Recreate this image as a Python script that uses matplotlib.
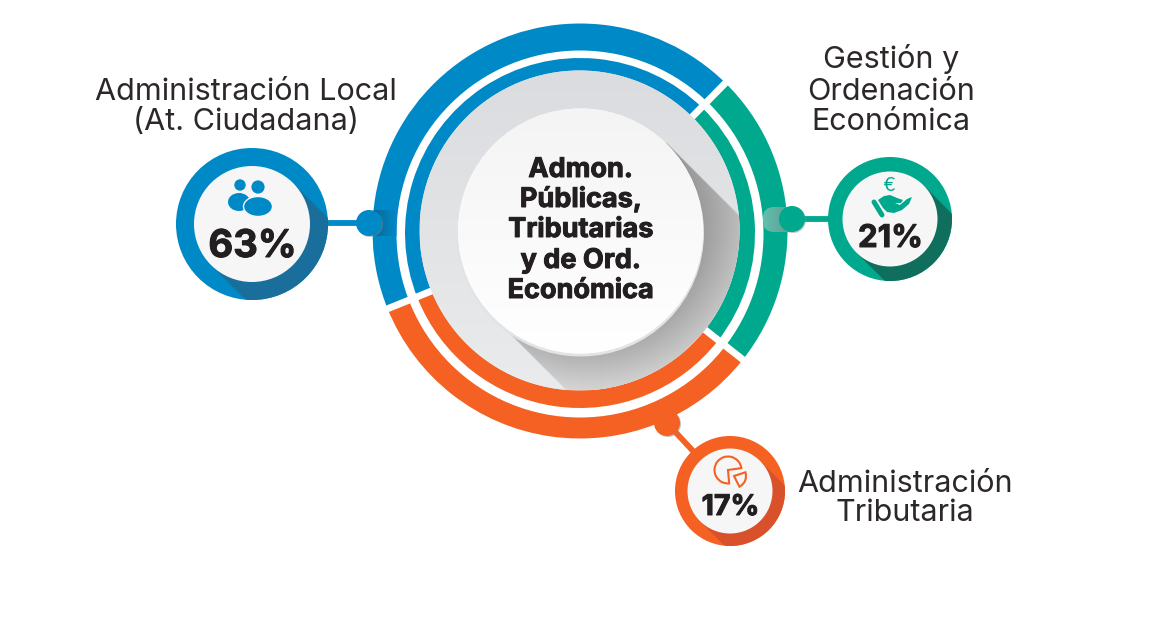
import numpy as np
from matplotlib import pyplot as plt
from matplotlib import patheffects as pe
from matplotlib.colors import to_rgb
from matplotlib.patches import Circle, Ellipse, FancyBboxPatch, Polygon, Wedge

AREAS = ['Administración Local\n(At. Ciudadana)', 'Gestión y\nOrdenación\nEconómica', 'Administración\nTributaria']
SHARES = ['63%', '21%', '17%']
CENTER_LABEL = ['Admon.', 'Públicas,', 'Tributarias', 'y de Ord.', 'Económica']
# arc ends in degrees, measured clockwise from 3 o'clock
ARC_START = [158, -45.5, 38.3]
ARC_END = [314.5, 38.3, 158]

BLUE = '#0089c7'
GREEN = '#00a88e'
ORANGE = '#f46122'
COLORS = [BLUE, GREEN, ORANGE]
DARKS = ['#1a6e9b', '#0f6f5c', '#d9512a']
TEXT = '#2c2827'
INK = '#231f20'

CX, CY = 580, 231

plt.rcParams['font.family'] = ['Inter', 'DejaVu Sans']

fig = plt.figure(figsize=(11.72, 6.24), dpi=100)
ax = fig.add_axes([0, 0, 1, 1])
ax.axis('off')

HEAVY = [pe.withStroke(linewidth=0.7, foreground=INK)]


def gradient(extent, c0, c1, clip, horizontal=True, zorder=2):
    # small image going from c0 to c1, cut by a patch
    t = np.linspace(0, 1, 128)
    col = np.outer(1 - t, to_rgb(c0)) + np.outer(t, to_rgb(c1))
    rgb = col[None, :, :] if horizontal else col[:, None, :]
    im = ax.imshow(rgb, extent=extent, aspect='auto', zorder=zorder, interpolation='bilinear')
    if clip is not None:
        im.set_clip_path(clip)
    return im


def long_shadow(cx, cy, r, length, clip, color, zorder=3):
    # band leaving a disc towards the lower right
    k = r * np.sqrt(0.5)
    d = length * np.sqrt(0.5)
    pts = [(cx + k, cy - k), (cx + k + d, cy - k + d), (cx - k + d, cy + k + d), (cx - k, cy + k)]
    band = Polygon(pts, closed=True, fc=color, ec='none', zorder=zorder)
    ax.add_patch(band)
    band.set_clip_path(clip)
    return band


# segmented rings, the two bands are not quite concentric
for start, end, color in zip(ARC_START, ARC_END, COLORS):
    ax.add_patch(Wedge((CX, CY), 207.5, start, end, fc=color, ec='none', zorder=0.5))
    ax.add_patch(Wedge((CX, CY + 2), 175, start, end, fc=color, ec='none', zorder=0.7))
ax.add_patch(Circle((CX, CY + 3), 183.5, fc='white', ec='none', zorder=0.6))
for end in ARC_START:
    a = np.deg2rad(end)
    ax.plot([CX + 150 * np.cos(a), CX + 213 * np.cos(a)], [CY + 150 * np.sin(a), CY + 213 * np.sin(a)],
            color='white', lw=5, solid_capstyle='butt', zorder=0.8)

# big grey disc and its shadow
DX, DY, DR = CX - 0.5, CY - 0.5, 160
disc = Circle((DX, DY), DR, fc='#e5e6e8', ec='none', zorder=1)
ax.add_patch(disc)
gradient((DX - DR, DX + DR, DY + DR, DY - DR), '#dbdcdf', '#eaebec', disc, horizontal=False)

size = 644
grid_x, grid_y = np.meshgrid(np.linspace(-DR, DR, size), np.linspace(-DR, DR, size))
radial = np.clip((np.hypot(grid_x, grid_y) - 123) / 38, 0, 1)
across = (grid_x - grid_y) * np.sqrt(0.5)   # towards the upper right
along = (grid_x + grid_y) * np.sqrt(0.5)
shade = np.zeros((size, size, 4))
shade[..., :3] = (0.65 + 0.14 * radial - 0.05 * across / 123)[..., None]
shade[..., 3] = np.clip(123.5 - np.abs(across), 0, 1) * (along > 0)
im = ax.imshow(shade, extent=(DX - DR, DX + DR, DY + DR, DY - DR), aspect='auto', zorder=3.5)
im.set_clip_path(disc)

ax.add_patch(Circle((CX + 0.5, CY + 2), 123.5, fc='#e2e3e5', ec='none', zorder=4))
top = Circle((CX + 0.5, CY), 122.5, fc='white', ec='none', zorder=4.5)
ax.add_patch(top)
gradient((CX - 123, CX + 124, CY + 123, CY - 123), '#f4f4f5', '#ffffff', top, horizontal=False, zorder=4.6)

# satellite circles: centre, outer radius, inner radius, knob, stem end, baseline and size of the share
SAT = [
    (252, 224, 76, 58, (369, 223), (328, 223), 257, 27.5, (246, [100, 130])),
    (890, 219, 62, 47.5, (792, 219), (830, 219), 247, 22.5, (891, [68, 100, 130])),
    (730, 491, 55, 42.5, (667, 423), (693, 451), 515, 20.5, (905, [492, 521])),
]

for i, (x, y, r_out, r_in, knob, stem, py, psize, lab) in enumerate(SAT):
    color = COLORS[i]
    ax.plot([knob[0], stem[0]], [knob[1], stem[1]], color=color, lw=4.2, solid_capstyle='butt', zorder=6)
    outer = Circle((x, y), r_out, fc=color, ec='none', zorder=7)
    ax.add_patch(outer)
    long_shadow(x, y, r_in, r_out * 1.4, outer, DARKS[i], zorder=7.5)
    ax.add_patch(Circle((x, y), r_in, fc='#f6f6f7', ec='none', zorder=8))
    ax.text(x + 0.5, py, SHARES[i], ha='center', va='baseline', fontsize=psize, fontweight='bold',
            color=INK, zorder=10, path_effects=HEAVY)
    ax.add_patch(Circle((knob[0] + 1, knob[1] + 1), 13, fc='#8a8a8a', ec='none', alpha=0.5, zorder=6.5))
    ax.add_patch(Circle(knob, 13, fc=color, ec='none', zorder=6.6))
    lines = AREAS[i].split('\n')
    for line, ly in zip(lines, lab[1]):
        ax.text(lab[0], ly, line, ha='center', va='baseline', fontsize=22, color=TEXT, zorder=10)

# shadow behind the knobs
outer_blue = Wedge((CX, CY), 207.5, 170, 190, width=24, fc='none', ec='none')
ax.add_patch(outer_blue)
gradient((369, 397, 236, 210), '#0b628f', BLUE, outer_blue, zorder=6.2)
green_cap = FancyBboxPatch((763, 207), 40, 25, boxstyle='round,pad=0,rounding_size=11', fc='none', ec='none')
ax.add_patch(green_cap)
gradient((763, 792, 232, 207), '#62c1af', '#5c9a8e', green_cap, zorder=6.2)
outer_orange = Wedge((CX, CY), 207.5, 80, 115, width=20, fc='none', ec='none')
ax.add_patch(outer_orange)
gradient((654, 680, 436, 410), ORANGE, '#c94f17', outer_orange, horizontal=False, zorder=6.2)

# people icon
ax.add_patch(Circle((240, 185), 5.7, fc=BLUE, ec='none', zorder=9))
ax.add_patch(Circle((258, 187), 6.6, fc=BLUE, ec='none', zorder=9))
ax.add_patch(Ellipse((239, 202), 22, 18, fc=BLUE, ec='none', zorder=9))
ax.add_patch(Ellipse((258, 206.5), 29, 20, fc=BLUE, ec='#f6f6f7', lw=1.0, zorder=9.1))

# hand and euro icon
ax.text(889, 191, '€', ha='center', va='baseline', fontsize=14, family='Lato', color=GREEN, zorder=9)
ax.plot([874, 882], [202, 215], color=GREEN, lw=3.6, solid_capstyle='round', zorder=9)
ax.add_patch(Polygon([(878, 200), (884, 196), (890, 195), (897, 198), (903, 200), (901, 203), (895, 203),
                      (900, 205), (907, 199), (912, 197), (909, 204), (902, 210), (894, 213), (887, 212), (883, 208)],
                     closed=True, fc=GREEN, ec='none', zorder=9))

# pie icon
ax.add_patch(Wedge((728, 470), 13.5, 85, 352, fc='none', ec=ORANGE, lw=1.5, zorder=9))
ax.add_patch(Wedge((734, 476), 12, -18, 63, fc='none', ec=ORANGE, lw=1.5, zorder=9))

for label, ly in zip(CENTER_LABEL, [177, 207, 237, 268, 298]):
    ax.text(581, ly, label, ha='center', va='baseline', fontsize=19.5, fontweight='bold', color=INK, zorder=10,
            path_effects=HEAVY)

ax.set_xlim(0, 1172)
ax.set_ylim(624, 0)

fig.savefig('out.png', dpi=100, facecolor='white')
